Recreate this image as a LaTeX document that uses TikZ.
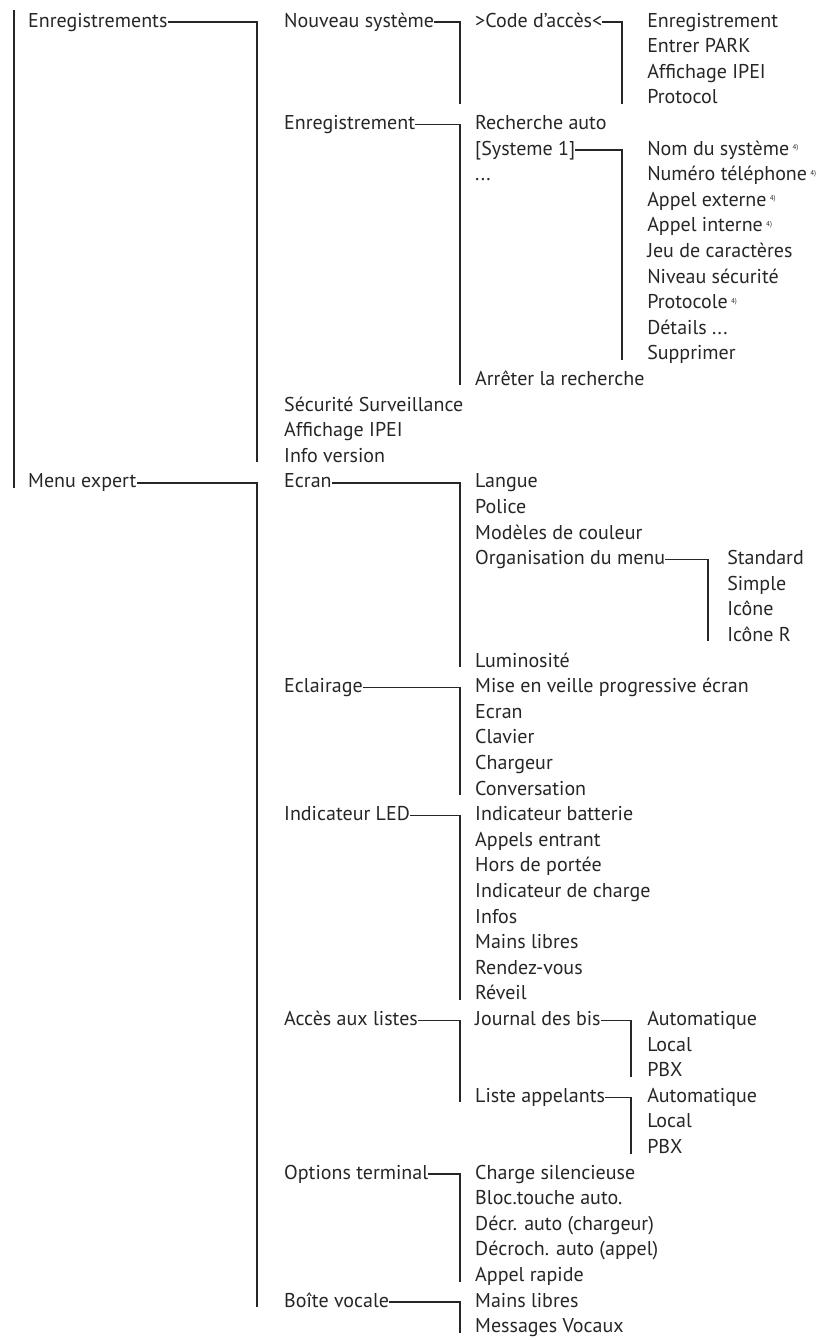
\documentclass[tikz,border=0pt]{standalone}
\usepackage{fontspec}
\setmainfont{PT Sans}

% small footnote marker after some entries
\newcommand{\noteref}{\,\raisebox{0.55ex}{\fontsize{7}{8}\selectfont 4)}}

\begin{document}
\begin{tikzpicture}[
    x=1pt, y=-25.6pt,
    item/.style={anchor=west, inner sep=0pt, text height=14pt, text depth=4pt, font=\fontsize{20}{24}\selectfont, text=black!85},
    branch/.style={draw=black!85, line width=1.6pt}
]

\useasboundingbox (0,-0.86) rectangle (832,51.48);

% Bus lines (x positions of the vertical strokes)
\coordinate (root) at (14,-0.47);
\coordinate (busB) at (257,0);
\coordinate (busC) at (460,0);
\coordinate (busD) at (622,0);
\coordinate (busE) at (708,0);
\coordinate (busF) at (631,0);

% Top level
\node[item] (enreg) at (28,0) {Enregistrements};
\node[item] (mexp) at (28,18) {Menu expert};

% Enregistrements
\node[item] (nsys) at (284,0) {Nouveau système};
\node[item] (enr) at (284,4) {Enregistrement};
\node[item] (secu) at (284,15) {Sécurité Surveillance};
\node[item] (ipei) at (284,16) {Affichage IPEI};
\node[item] (info) at (284,17) {Info version};

% Nouveau système
\node[item] (code) at (475,0) {>Code d'accès<};
\node[item] (cenr) at (647,0) {Enregistrement};
\node[item] (park) at (647,1) {Entrer PARK};
\node[item] (cipei) at (647,2) {Affichage IPEI};
\node[item] (proto) at (647,3) {Protocol};

% Enregistrement
\node[item] (rech) at (475,4) {Recherche auto};
\node[item] (sys1) at (475,5) {[Systeme 1]};
\node[item] (dots) at (475,6) {...};
\node[item] (stop) at (475,14) {Arrêter la recherche};

% Systeme 1
\node[item] (nom) at (647,5) {Nom du système\noteref};
\node[item] (tel) at (647,6) {Numéro téléphone\noteref};
\node[item] (ext) at (647,7) {Appel externe\noteref};
\node[item] (int) at (647,8) {Appel interne\noteref};
\node[item] (jeu) at (647,9) {Jeu de caractères};
\node[item] (niv) at (647,10) {Niveau sécurité};
\node[item] (sproto) at (647,11) {Protocole\noteref};
\node[item] (det) at (647,12) {Détails ...};
\node[item] (suppr) at (647,13) {Supprimer};

% Menu expert
\node[item] (ecran) at (284,18) {Ecran};
\node[item] (eclair) at (284,26) {Eclairage};
\node[item] (led) at (284,31) {Indicateur LED};
\node[item] (listes) at (284,39) {Accès aux listes};
\node[item] (opt) at (284,45) {Options terminal};
\node[item] (boite) at (284,50) {Boîte vocale};

% Ecran
\node[item] (langue) at (475,18) {Langue};
\node[item] (police) at (475,19) {Police};
\node[item] (coul) at (475,20) {Modèles de couleur};
\node[item] (orga) at (475,21) {Organisation du menu};
\node[item] (lum) at (475,25) {Luminosité};
\node[item] (std) at (727,21) {Standard};
\node[item] (simple) at (727,22) {Simple};
\node[item] (icone) at (727,23) {Icône};
\node[item] (iconer) at (727,24) {Icône R};

% Eclairage
\node[item] (veille) at (475,26) {Mise en veille progressive écran};
\node[item] (lecran) at (475,27) {Ecran};
\node[item] (clavier) at (475,28) {Clavier};
\node[item] (chargeur) at (475,29) {Chargeur};
\node[item] (conv) at (475,30) {Conversation};

% Indicateur LED
\node[item] (batt) at (475,31) {Indicateur batterie};
\node[item] (entrant) at (475,32) {Appels entrant};
\node[item] (portee) at (475,33) {Hors de portée};
\node[item] (charge) at (475,34) {Indicateur de charge};
\node[item] (infos) at (475,35) {Infos};
\node[item] (lmains) at (475,36) {Mains libres};
\node[item] (rdv) at (475,37) {Rendez-vous};
\node[item] (reveil) at (475,38) {Réveil};

% Accès aux listes
\node[item] (journal) at (475,39) {Journal des bis};
\node[item] (appel) at (475,42) {Liste appelants};
\node[item] (jauto) at (647,39) {Automatique};
\node[item] (jlocal) at (647,40) {Local};
\node[item] (jpbx) at (647,41) {PBX};
\node[item] (aauto) at (647,42) {Automatique};
\node[item] (alocal) at (647,43) {Local};
\node[item] (apbx) at (647,44) {PBX};

% Options terminal
\node[item] (silence) at (475,45) {Charge silencieuse};
\node[item] (bloc) at (475,46) {Bloc.touche auto.};
\node[item] (decr) at (475,47) {Décr. auto (chargeur)};
\node[item] (decroch) at (475,48) {Décroch. auto (appel)};
\node[item] (rapide) at (475,49) {Appel rapide};

% Boîte vocale
\node[item] (vmains) at (475,50) {Mains libres};
\node[item] (vmsg) at (475,51) {Messages Vocaux};

% Branches
\draw[branch] (root) -- (root |- mexp.base);
\draw[branch] (enreg.east) -| (busB |- info.base);
\draw[branch] (mexp.east) -| (busB |- boite.base);

\draw[branch] (nsys.east) -| (busC |- proto.base);
\draw[branch] (code.east) -| (busD |- proto.base);
\draw[branch] (enr.east) -| (busC |- stop.base);
\draw[branch] (sys1.east) -| (busD |- suppr.base);

\draw[branch] (ecran.east) -| (busC |- lum.base);
\draw[branch] (orga.east) -| (busE |- iconer.base);
\draw[branch] (eclair.east) -| (busC |- conv.base);
\draw[branch] (led.east) -| (busC |- reveil.base);
\draw[branch] (listes.east) -| (busC |- appel.base);
\draw[branch] (journal.east) -| (busF |- jpbx.base);
\draw[branch] (appel.east) -| (busF |- apbx.base);
\draw[branch] (opt.east) -| (busC |- rapide.base);
\draw[branch] (boite.east) -| (busC |- vmsg.base);

\end{tikzpicture}
\end{document}
